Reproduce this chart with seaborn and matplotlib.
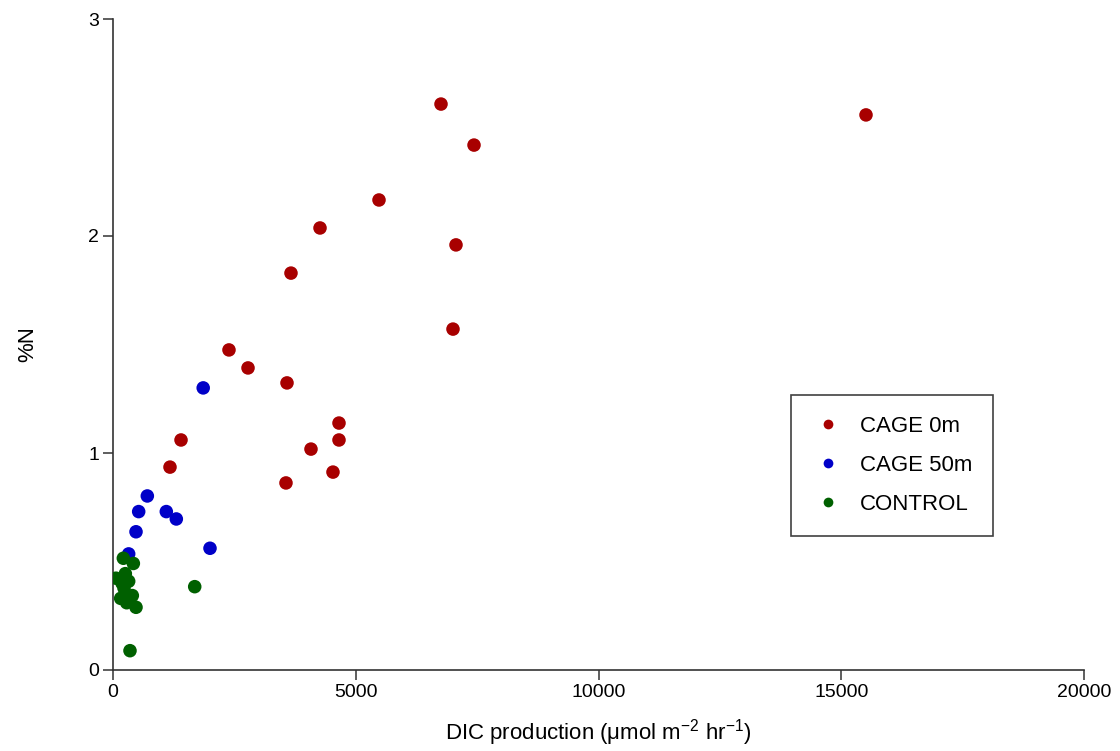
import matplotlib
matplotlib.use("Agg")
import matplotlib.pyplot as plt
import seaborn as sns
import pandas as pd
from matplotlib.lines import Line2D

# ---- data ----
cage0_x = [6756, 7436, 15510, 5479, 4264, 7065, 3666, 7003, 2389, 2781, 3584,
           4655, 4655, 4078, 4531, 3563, 1401, 1174]
cage0_y = [2.608, 2.419, 2.558, 2.166, 2.037, 1.959, 1.829, 1.571, 1.475, 1.392,
           1.323, 1.138, 1.060, 1.018, 0.912, 0.862, 1.060, 0.935]
cage50_x = [1858, 707, 529, 1098, 1304, 474, 1998, 323]
cage50_y = [1.300, 0.802, 0.730, 0.730, 0.696, 0.637, 0.561, 0.535]
control_x = [213, 419, 254, 62, 323, 185, 227, 398, 158, 282, 474, 1683, 350]
control_y = [0.515, 0.491, 0.444, 0.423, 0.409, 0.400, 0.377, 0.343, 0.330,
             0.310, 0.289, 0.384, 0.089]
groups = ["CAGE 0m", "CAGE 50m", "CONTROL"]
colors = ["#a80000", "#0000c8", "#006000"]
x_ticks = [0, 5000, 10000, 15000, 20000]
y_ticks = [0, 1, 2, 3]

df = pd.concat([
    pd.DataFrame({"x": cage0_x, "y": cage0_y, "group": groups[0]}),
    pd.DataFrame({"x": cage50_x, "y": cage50_y, "group": groups[1]}),
    pd.DataFrame({"x": control_x, "y": control_y, "group": groups[2]}),
])

sns.set_style("ticks")
plt.rcParams["font.family"] = ["Liberation Sans", "DejaVu Sans"]
plt.rcParams["mathtext.fontset"] = "custom"
plt.rcParams["mathtext.rm"] = "Liberation Sans"
plt.rcParams["mathtext.it"] = "Liberation Sans:italic"
plt.rcParams["mathtext.default"] = "regular"
plt.rcParams["text.color"] = "black"
plt.rcParams["axes.labelcolor"] = "black"
plt.rcParams["xtick.color"] = "black"
plt.rcParams["ytick.color"] = "black"

fig = plt.figure(figsize=(11.2, 7.51), dpi=100)
ax = fig.add_axes([113/1120, 81/751, 971/1120, 651/751])

sns.scatterplot(data=df, x="x", y="y", hue="group", hue_order=groups,
                palette=colors, s=95, linewidth=0, ax=ax, legend=False, zorder=3)

ax.set_xlim(0, 20000)
ax.set_ylim(0, 3)
ax.set_xticks(x_ticks)
ax.set_yticks(y_ticks)
ax.tick_params(direction="out", length=7, width=1.1, labelsize=14,
               color="#333333", labelcolor="black", pad=3)
for side in ["top", "right"]:
    ax.spines[side].set_visible(False)
for side in ["left", "bottom"]:
    ax.spines[side].set_linewidth(1.2)
    ax.spines[side].set_color("#333333")

ax.set_xlabel(r"DIC production ($\mu$mol m$^{-2}$ hr$^{-1}$)", fontsize=16, labelpad=12)
ax.set_ylabel("%N", fontsize=16, labelpad=36)

handles = [Line2D([], [], linestyle="none", marker="o", markersize=7,
                  markerfacecolor=c, markeredgewidth=0) for c in colors]
leg = ax.legend(handles, groups, loc="upper left", bbox_to_anchor=(0.698, 0.4224),
                borderaxespad=0, frameon=True, fancybox=False, fontsize=16,
                borderpad=0.95, labelspacing=0.8, handlelength=1.45,
                handletextpad=0.7)
leg.get_frame().set_edgecolor("#111111")
leg.get_frame().set_linewidth(1.2)

fig.savefig("out.png", dpi=100)
